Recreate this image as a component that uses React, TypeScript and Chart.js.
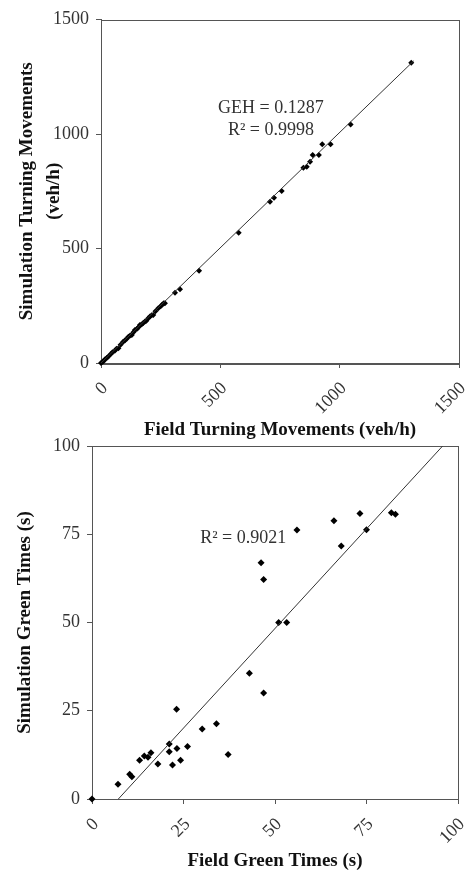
import React, { useEffect, useRef } from "react";
import { Chart, registerables } from "chart.js";
Chart.register(...registerables);

// ---- Top chart: turning movements (veh/h)
const turnField = [0, 7, 12, 17, 24, 31, 40, 48, 58, 65, 73, 82, 93, 100, 108, 115, 122, 129, 136, 142, 150, 156, 163, 170, 177, 184, 190, 198, 205, 212, 219, 228, 240, 250, 257, 263, 268, 310, 331, 411, 577, 708, 725, 757, 848, 862, 876, 887, 913, 927, 962, 1046, 1300];
const turnSim = [0, 5, 10, 16, 22, 28, 38, 47, 54, 62, 64, 80, 93, 98, 106, 115, 120, 122, 134, 144, 148, 155, 166, 168, 175, 181, 184, 195, 203, 208, 210, 226, 239, 248, 255, 261, 261, 307, 322, 403, 569, 704, 722, 751, 853, 857, 879, 908, 908, 955, 955, 1042, 1311];
const turnFitX = [0, 1310];
const turnFitY = [0, 1319];
const turnMax = 1500;
const turnStep = 500;
const turnXTitle = "Field Turning Movements (veh/h)";
const turnYTitle = ["Simulation Turning Movements", "(veh/h)"];
const turnNotes = ["GEH = 0.1287", "R\u00B2 = 0.9998"];
const turnNoteAt = [712, 1065];

// ---- Bottom chart: green times (s)
const greenField = [0, 7.1, 10.3, 10.9, 13.0, 14.3, 15.3, 16.1, 18.0, 21.1, 21.1, 22.0, 23.1, 23.2, 24.2, 26.1, 30.1, 34.0, 37.2, 43.0, 46.9, 46.2, 46.9, 51.0, 53.2, 56.0, 66.1, 68.1, 73.2, 75.0, 81.8, 82.9];
const greenSim = [0, 4.2, 7.0, 6.3, 11.0, 12.2, 11.8, 13.1, 9.9, 15.6, 13.4, 9.6, 25.4, 14.3, 11.0, 14.9, 19.8, 21.3, 12.6, 35.6, 30.0, 66.9, 62.2, 50.0, 50.0, 76.2, 78.8, 71.7, 80.9, 76.3, 81.1, 80.7];
const greenFitX = [7.2, 95.8];
const greenFitY = [0, 100];
const greenMax = 100;
const greenStep = 25;
const greenXTitle = "Field Green Times (s)";
const greenYTitle = "Simulation Green Times (s)";
const greenNotes = ["R\u00B2 = 0.9021"];
const greenNoteAt = [41.3, 73.9];

const SERIF = "'Liberation Serif', 'Times New Roman', serif";
const AXIS = "#555";
const TEXT = "#333";

const framePlugin = {
  id: "frame",
  beforeDatasetsDraw(chart: any) {
    const { ctx, chartArea: a } = chart;
    ctx.save();
    ctx.strokeStyle = AXIS;
    ctx.lineWidth = 1;
    ctx.strokeRect(Math.round(a.left) + 0.5, Math.round(a.top) + 0.5, Math.round(a.right - a.left), Math.round(a.bottom - a.top));
    ctx.restore();
  },
};

const notesPlugin = {
  id: "notes",
  afterDatasetsDraw(chart: any, _args: any, opts: any) {
    if (!opts || !opts.lines) return;
    const { ctx, scales } = chart;
    const cx = scales.x.getPixelForValue(opts.at[0]);
    const cy = scales.y.getPixelForValue(opts.at[1]);
    const lh = 22;
    ctx.save();
    ctx.font = `18px ${SERIF}`;
    ctx.fillStyle = TEXT;
    ctx.textAlign = "center";
    ctx.textBaseline = "middle";
    const n = opts.lines.length;
    opts.lines.forEach((t: string, i: number) => {
      ctx.fillText(t, cx, cy + (i - (n - 1) / 2) * lh);
    });
    ctx.restore();
  },
};

type Spec = {
  top: number;
  height: number;
  padTop: number;
  padRight: number;
  yWidth: number;
  xHeight: number;
  field: number[];
  sim: number[];
  fitX: number[];
  fitY: number[];
  max: number;
  step: number;
  xTitle: string;
  yTitle: string | string[];
  yTitleLH: number;
  yTitlePad: number;
  xTitlePad: number;
  pointR: number;
  notes: string[];
  noteAt: number[];
};

const plain = (v: any) => String(v);

function ScatterPanel({ spec }: { spec: Spec }) {
  const ref = useRef<HTMLCanvasElement>(null);
  useEffect(() => {
    if (!ref.current) return;
    const pts = spec.field.map((x, i) => ({ x, y: spec.sim[i] }));
    const fit = spec.fitX.map((x, i) => ({ x, y: spec.fitY[i] }));
    const tickFont = { family: SERIF, size: 18 };
    const chart = new Chart(ref.current, {
      type: "scatter",
      data: {
        datasets: [
          {
            type: "line",
            data: fit,
            borderColor: "#333",
            borderWidth: 1,
            pointRadius: 0,
            fill: false,
          } as any,
          {
            data: pts,
            backgroundColor: "#000",
            borderColor: "#000",
            borderWidth: 0,
            pointStyle: "rectRot",
            pointRadius: spec.pointR,
            clip: false,
          } as any,
        ],
      },
      options: {
        animation: false,
        responsive: false,
        events: [],
        layout: { padding: { top: spec.padTop, right: spec.padRight, left: 0, bottom: 0 } },
        plugins: {
          legend: { display: false },
          tooltip: { enabled: false },
          notes: { lines: spec.notes, at: spec.noteAt },
        } as any,
        scales: {
          x: {
            type: "linear",
            min: 0,
            max: spec.max,
            afterFit: (s: any) => {
              s.height = spec.xHeight;
              s.paddingLeft = 0;
              s.paddingRight = 0;
            },
            ticks: {
              stepSize: spec.step,
              autoSkip: false,
              minRotation: 45,
              maxRotation: 45,
              padding: 10,
              labelOffset: 4,
              color: TEXT,
              font: tickFont,
              callback: plain,
            },
            grid: { display: true, drawOnChartArea: false, drawTicks: true, tickLength: 5, color: AXIS },
            border: { display: true, color: AXIS },
            title: {
              display: true,
              text: spec.xTitle,
              color: "#111",
              font: { family: SERIF, size: 19, weight: "bold" },
              padding: { top: 0, bottom: spec.xTitlePad },
            },
          },
          y: {
            type: "linear",
            min: 0,
            max: spec.max,
            afterFit: (s: any) => {
              s.width = spec.yWidth;
            },
            ticks: {
              stepSize: spec.step,
              padding: 7,
              color: TEXT,
              font: tickFont,
              callback: plain,
            },
            grid: { display: true, drawOnChartArea: false, drawTicks: true, tickLength: 5, color: AXIS },
            border: { display: true, color: AXIS },
            title: {
              display: true,
              text: spec.yTitle,
              color: "#111",
              font: { family: SERIF, size: 19, weight: "bold", lineHeight: spec.yTitleLH },
              padding: { top: spec.yTitlePad, bottom: 0 },
            },
          },
        },
      },
      plugins: [framePlugin, notesPlugin],
    });
    return () => chart.destroy();
  }, [spec]);
  return (
    <canvas
      ref={ref}
      width={465}
      height={spec.height}
      style={{ position: "absolute", left: 0, top: spec.top, width: 465, height: spec.height }}
    />
  );
}

const topSpec: Spec = {
  top: 0,
  height: 445,
  padTop: 19.5,
  padRight: 6,
  yWidth: 101,
  xHeight: 82,
  field: turnField,
  sim: turnSim,
  fitX: turnFitX,
  fitY: turnFitY,
  max: turnMax,
  step: turnStep,
  xTitle: turnXTitle,
  yTitle: turnYTitle,
  yTitleLH: 1.45,
  yTitlePad: 13,
  xTitlePad: 4,
  pointR: 3,
  notes: turnNotes,
  noteAt: turnNoteAt,
};

const bottomSpec: Spec = {
  top: 425,
  height: 447,
  padTop: 21,
  padRight: 7,
  yWidth: 92,
  xHeight: 73,
  field: greenField,
  sim: greenSim,
  fitX: greenFitX,
  fitY: greenFitY,
  max: greenMax,
  step: greenStep,
  xTitle: greenXTitle,
  yTitle: greenYTitle,
  yTitleLH: 1.2,
  yTitlePad: 13.5,
  xTitlePad: 0,
  pointR: 3.5,
  notes: greenNotes,
  noteAt: greenNoteAt,
};

export default function App() {
  return (
    <div style={{ position: "absolute", left: 0, top: 0, width: 465, height: 872, background: "#fff", overflow: "hidden" }}>
      <ScatterPanel spec={topSpec} />
      <ScatterPanel spec={bottomSpec} />
    </div>
  );
}
